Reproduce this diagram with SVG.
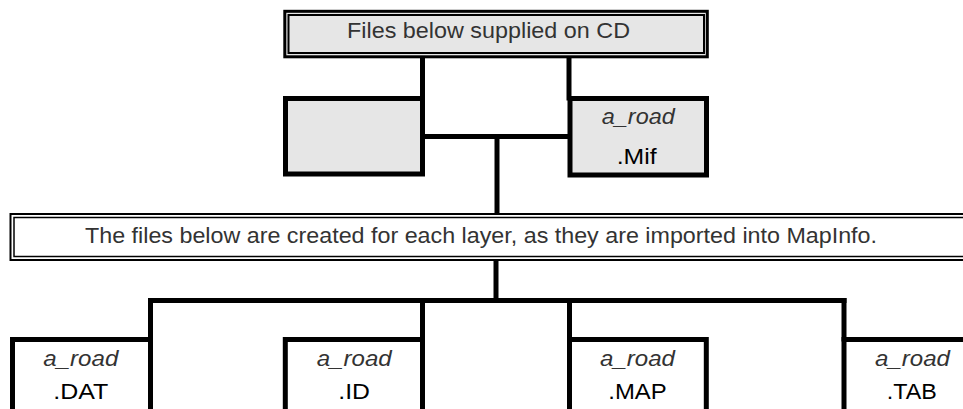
<svg xmlns="http://www.w3.org/2000/svg" width="963" height="409" viewBox="0 0 963 409">
<style>
.box{stroke:#000;stroke-width:5;fill:#fff}
.gray{fill:#e6e6e6}
.conn line{stroke:#000;stroke-width:5;stroke-linecap:square}
.t{font-family:"Liberation Sans",Arial,sans-serif;font-size:22px;fill:#333;text-anchor:middle}
.it{font-style:italic}
.ext{fill:#000}
</style>
<rect width="963" height="409" fill="#fff"/>
<g id="conn" class="conn">
<line x1="422.5" y1="58" x2="422.5" y2="98"/>
<line x1="569" y1="58" x2="569" y2="98"/>
<line x1="422.5" y1="136.5" x2="569" y2="136.5"/>
<line x1="497" y1="136.5" x2="497" y2="212"/>
<line x1="496" y1="261" x2="496" y2="300.5"/>
<line x1="150.5" y1="300.5" x2="844" y2="300.5"/>
<line x1="150.5" y1="300.5" x2="150.5" y2="339"/>
<line x1="422.5" y1="300.5" x2="422.5" y2="339"/>
<line x1="569.5" y1="300.5" x2="569.5" y2="339"/>
<line x1="844" y1="300.5" x2="844" y2="339"/>
</g>
<g id="cd">
<rect x="284.8" y="11.3" width="422.5" height="45.5" fill="#e6e6e6" stroke="#000" stroke-width="3"/>
<rect x="288.5" y="15" width="415.5" height="38" fill="none" stroke="#000" stroke-width="2"/>
<text class="t" x="488.5" y="38" textLength="283" lengthAdjust="spacingAndGlyphs">Files below supplied on CD</text>
</g>
<g id="blank">
<rect class="box gray" x="285.5" y="98.5" width="137" height="75.5"/>
</g>
<g id="mif">
<rect class="box gray" x="570" y="98.5" width="136.5" height="76.5"/>
<text class="t it" x="638.3" y="124" textLength="73" lengthAdjust="spacingAndGlyphs">a_road</text>
<text class="t ext" x="636.7" y="164" textLength="40" lengthAdjust="spacingAndGlyphs">.Mif</text>
</g>
<g id="created">
<rect x="10.5" y="214" width="970" height="46" fill="#fff" stroke="#000" stroke-width="2"/>
<rect x="14" y="217.5" width="970" height="39" fill="none" stroke="#000" stroke-width="1.5"/>
<text class="t" x="481" y="243" textLength="792" lengthAdjust="spacingAndGlyphs">The files below are created for each layer, as they are imported into MapInfo.</text>
</g>
<g id="dat">
<rect class="box" x="12.5" y="339.5" width="138" height="100"/>
<text class="t it" x="80.8" y="365.5" textLength="75" lengthAdjust="spacingAndGlyphs">a_road</text>
<text class="t ext" x="80.8" y="399" textLength="55" lengthAdjust="spacingAndGlyphs">.DAT</text>
</g>
<g id="id">
<rect class="box" x="285.3" y="339.5" width="137.2" height="100"/>
<text class="t it" x="354.2" y="365.5" textLength="75" lengthAdjust="spacingAndGlyphs">a_road</text>
<text class="t ext" x="354.2" y="399" textLength="31.7" lengthAdjust="spacingAndGlyphs">.ID</text>
</g>
<g id="map">
<rect class="box" x="569.5" y="339.5" width="136.8" height="100"/>
<text class="t it" x="637.5" y="365.5" textLength="75" lengthAdjust="spacingAndGlyphs">a_road</text>
<text class="t ext" x="637.5" y="399" textLength="58.4" lengthAdjust="spacingAndGlyphs">.MAP</text>
</g>
<g id="tab">
<rect class="box" x="844" y="339.5" width="137" height="100"/>
<text class="t it" x="912.5" y="365.5" textLength="75" lengthAdjust="spacingAndGlyphs">a_road</text>
<text class="t ext" x="911.7" y="399" textLength="50" lengthAdjust="spacingAndGlyphs">.TAB</text>
</g>
</svg>
